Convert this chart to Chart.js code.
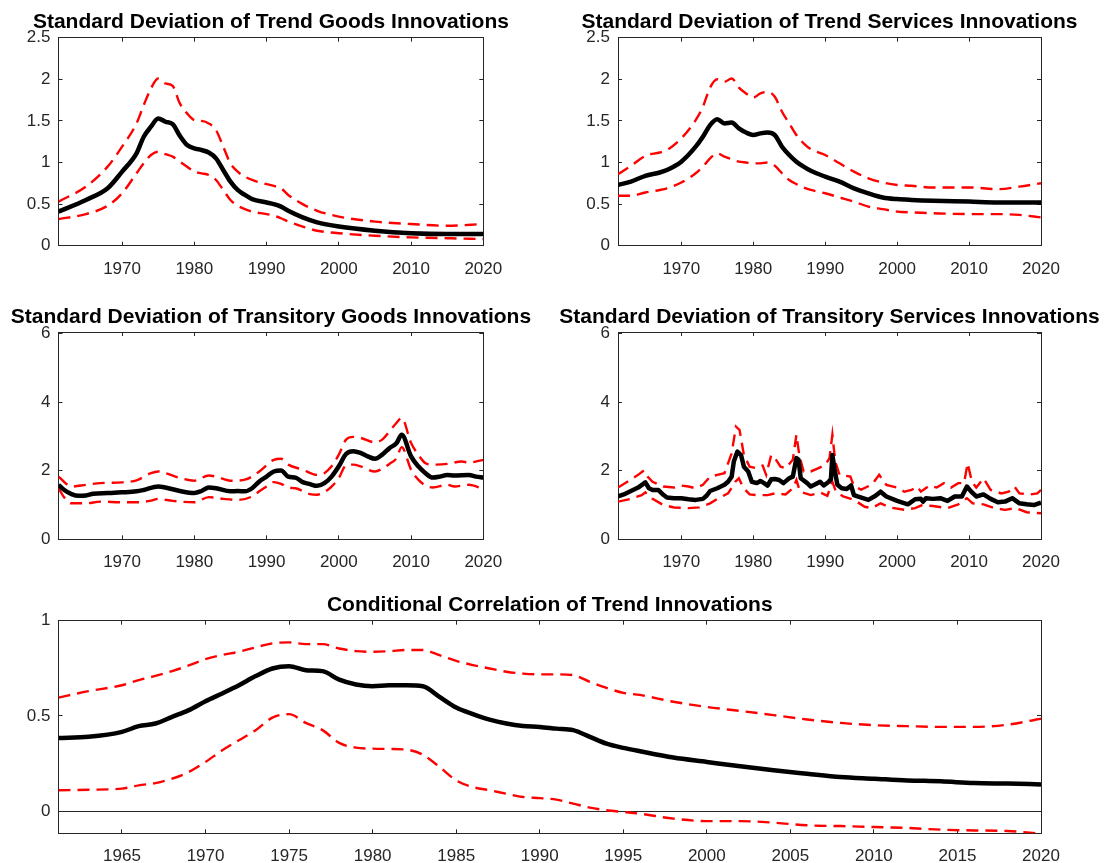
<!DOCTYPE html>
<html>
<head>
<meta charset="utf-8">
<title>Trend and transitory innovations</title>
<script src="https://cdn.jsdelivr.net/npm/chart.js@4.4.1/dist/chart.umd.min.js"></script>
<style>
  html, body { margin: 0; padding: 0; background: #fff; }
  #wrap { position: relative; width: 1104px; height: 863px; overflow: hidden; }
  #wrap canvas { position: absolute; }
</style>
</head>
<body>
<div id="wrap"></div>
<script>
'use strict';

// ---- data (years are decimal dates) ----

// trend goods
const tgYears = [1961.2, 1965, 1968, 1970, 1972, 1973, 1974, 1975, 1976, 1977, 1978, 1979, 1980, 1981, 1982, 1983,
  1984, 1985, 1986, 1987, 1988, 1990, 1991, 1992, 1993, 1995, 1997, 2000, 2005, 2010, 2015, 2020];
const tgMedian = [0.41, 0.55, 0.69, 0.89, 1.11, 1.31, 1.43, 1.53, 1.49, 1.46, 1.32, 1.21, 1.17, 1.15, 1.12, 1.05,
  0.91, 0.77, 0.67, 0.61, 0.56, 0.52, 0.50, 0.47, 0.42, 0.34, 0.28, 0.23, 0.18, 0.15, 0.14, 0.14];
const tgUpper = [0.53, 0.71, 0.95, 1.19, 1.47, 1.69, 1.89, 2.01, 1.95, 1.92, 1.71, 1.59, 1.51, 1.50, 1.47, 1.39,
  1.19, 0.99, 0.89, 0.83, 0.79, 0.74, 0.72, 0.69, 0.61, 0.50, 0.42, 0.35, 0.29, 0.26, 0.24, 0.26];
const tgLower = [0.32, 0.38, 0.48, 0.63, 0.87, 0.99, 1.09, 1.13, 1.10, 1.07, 1.01, 0.95, 0.89, 0.87, 0.85, 0.79,
  0.67, 0.55, 0.48, 0.44, 0.41, 0.38, 0.36, 0.33, 0.29, 0.23, 0.18, 0.15, 0.12, 0.10, 0.09, 0.08];

// trend services
const tsYears = [1961.2, 1963, 1965, 1967, 1968, 1970, 1972, 1973, 1974, 1975, 1976, 1977, 1978, 1979, 1980, 1981,
  1982, 1983, 1984, 1985, 1986, 1987, 1988, 1990, 1992, 1994, 1996, 1998, 2000, 2002, 2005, 2010, 2014, 2017, 2020];
const tsMedian = [0.73, 0.77, 0.84, 0.88, 0.91, 1.01, 1.19, 1.31, 1.45, 1.52, 1.47, 1.48, 1.41, 1.36, 1.33, 1.35,
  1.36, 1.33, 1.19, 1.09, 1.01, 0.95, 0.90, 0.83, 0.77, 0.69, 0.63, 0.58, 0.56, 0.55, 0.54, 0.53, 0.52, 0.52, 0.52];
const tsUpper = [0.86, 0.96, 1.08, 1.12, 1.15, 1.29, 1.51, 1.67, 1.90, 2.00, 1.97, 2.01, 1.90, 1.83, 1.78, 1.83,
  1.85, 1.79, 1.61, 1.47, 1.33, 1.23, 1.16, 1.09, 0.99, 0.89, 0.81, 0.76, 0.73, 0.72, 0.70, 0.70, 0.68, 0.71, 0.75];
const tsLower = [0.60, 0.60, 0.64, 0.67, 0.69, 0.76, 0.87, 0.95, 1.05, 1.11, 1.07, 1.04, 1.01, 1.00, 0.99, 0.99,
  1.00, 0.96, 0.87, 0.79, 0.74, 0.70, 0.67, 0.63, 0.58, 0.53, 0.47, 0.44, 0.41, 0.40, 0.39, 0.38, 0.38, 0.37, 0.34];

// transitory goods
const xgMedYears = [1961.2, 1962, 1963, 1964, 1965, 1966, 1968, 1970, 1972, 1973, 1975, 1976, 1978, 1980, 1981, 1982,
  1983, 1985, 1986, 1987, 1988, 1989, 1990, 1991, 1992, 1993, 1994, 1995, 1996, 1997, 1998, 1999, 2000, 2001, 2002,
  2003, 2004, 2005, 2006, 2007, 2008, 2008.7, 2010, 2011, 2012, 2013, 2014, 2015, 2016, 2018, 2019, 2020];
const xgMedian = [1.59, 1.44, 1.32, 1.27, 1.28, 1.33, 1.35, 1.37, 1.40, 1.44, 1.54, 1.51, 1.41, 1.35, 1.41, 1.51,
  1.49, 1.40, 1.41, 1.40, 1.49, 1.69, 1.83, 1.98, 2.01, 1.83, 1.80, 1.67, 1.61, 1.56, 1.64, 1.83, 2.13, 2.49, 2.57,
  2.52, 2.42, 2.35, 2.47, 2.66, 2.81, 3.05, 2.42, 2.13, 1.93, 1.80, 1.83, 1.88, 1.86, 1.88, 1.83, 1.80];
const xgHiYears = [1961.2, 1963, 1965, 1967, 1970, 1972, 1974, 1975, 1976, 1978, 1980, 1982, 1983, 1985, 1987, 1989,
  1991, 1992, 1993, 1995, 1997, 1998, 1999, 2000, 2001, 2002, 2003, 2005, 2006, 2007, 2008, 2008.7, 2010, 2011, 2012,
  2013, 2015, 2017, 2018, 2020];
const xgUpper = [1.83, 1.54, 1.59, 1.64, 1.66, 1.72, 1.93, 1.98, 1.93, 1.79, 1.71, 1.86, 1.83, 1.71, 1.74, 1.98,
  2.32, 2.35, 2.18, 2.03, 1.88, 1.93, 2.13, 2.47, 2.91, 2.99, 2.96, 2.83, 2.91, 3.15, 3.40, 3.54, 2.81, 2.47, 2.22,
  2.18, 2.20, 2.27, 2.24, 2.32];
const xgLoYears = [1961.2, 1962, 1963, 1965, 1967, 1970, 1972, 1974, 1975, 1977, 1980, 1982, 1984, 1986, 1988, 1989,
  1990, 1991, 1992, 1993, 1994, 1996, 1997, 1998, 1999, 2000, 2001, 2002, 2003, 2005, 2006, 2007, 2008, 2008.7, 2010,
  2011, 2012, 2013, 2015, 2016, 2018, 2020];
const xgLower = [1.49, 1.22, 1.05, 1.05, 1.10, 1.08, 1.08, 1.13, 1.18, 1.12, 1.08, 1.23, 1.18, 1.15, 1.25, 1.40,
  1.54, 1.67, 1.62, 1.51, 1.49, 1.32, 1.30, 1.38, 1.54, 1.79, 2.16, 2.18, 2.13, 1.98, 2.06, 2.20, 2.37, 2.69, 2.03,
  1.74, 1.57, 1.51, 1.59, 1.54, 1.59, 1.47];

// transitory services
const xsMedYears = [1961.2, 1962, 1963, 1964, 1965, 1965.5, 1966, 1966.8, 1967.5, 1968, 1969, 1970, 1971, 1972, 1973,
  1973.5, 1974, 1975, 1976, 1976.5, 1977, 1977.3, 1977.8, 1978.3, 1978.7, 1979.3, 1979.8, 1980.5, 1981, 1981.5, 1982,
  1982.5, 1983, 1983.6, 1984.2, 1985, 1985.5, 1986, 1986.3, 1986.6, 1987.5, 1988, 1988.5, 1989.3, 1989.8, 1990.5,
  1990.8, 1991, 1991.3, 1991.7, 1992.3, 1993, 1993.6, 1994, 1994.5, 1996, 1997, 1997.7, 1998.5, 2000, 2001.5, 2002.5,
  2003.3, 2003.6, 2004, 2005, 2006, 2007, 2008, 2009, 2009.7, 2010.3, 2011, 2012, 2013, 2014, 2015, 2016, 2017, 2018,
  2019, 2020];
const xsMedian = [1.25, 1.31, 1.41, 1.51, 1.66, 1.49, 1.44, 1.44, 1.30, 1.22, 1.20, 1.20, 1.17, 1.15, 1.18,
  1.27, 1.41, 1.49, 1.59, 1.68, 1.83, 2.27, 2.56, 2.46, 2.12, 1.98, 1.68, 1.64, 1.70, 1.64, 1.57,
  1.75, 1.76, 1.73, 1.64, 1.78, 1.83, 2.37, 2.32, 1.78, 1.64, 1.54, 1.59, 1.68, 1.57, 1.68,
  1.76, 2.46, 2.05, 1.59, 1.49, 1.47, 1.57, 1.29, 1.25, 1.15, 1.27, 1.39, 1.25, 1.12, 1.02, 1.17,
  1.18, 1.10, 1.20, 1.18, 1.20, 1.12, 1.25, 1.25, 1.54, 1.39, 1.25, 1.31, 1.18, 1.08, 1.10, 1.20, 1.05, 1.02,
  1.00, 1.07];
const xsHiYears = [1961.2, 1962.5, 1964, 1964.8, 1965.3, 1966, 1967.5, 1969, 1970, 1971, 1972, 1973, 1974, 1975, 1976,
  1977, 1977.6, 1978.1, 1978.7, 1979.5, 1980.5, 1981.3, 1981.8, 1982.5, 1983, 1983.8, 1984.5, 1985.5, 1986, 1986.4,
  1987, 1988, 1989, 1990, 1990.6, 1991, 1991.4, 1992, 1993.5, 1994, 1995, 1996.5, 1997.5, 1998.5, 2000, 2001, 2002,
  2002.8, 2003.3, 2004.5, 2005.5, 2006.5, 2007.5, 2008.5, 2009.3, 2009.8, 2010.4, 2011, 2012, 2013, 2014.5, 2015.5,
  2016.3, 2017, 2018.5, 2019.5, 2020];
const xsUpper = [1.51, 1.68, 1.88, 2.01, 1.83, 1.68, 1.54, 1.51, 1.57, 1.54, 1.49, 1.59, 1.83, 1.88, 1.93,
  2.51, 3.29, 3.19, 2.46, 2.12, 2.07, 2.15, 1.88, 2.46, 2.37, 2.12, 2.07, 2.32, 3.05, 2.46,
  1.98, 1.98, 2.07, 2.17, 2.37, 3.05, 2.27, 1.88, 1.83, 1.55, 1.45, 1.60, 1.88, 1.59, 1.51, 1.39, 1.44,
  1.54, 1.39, 1.57, 1.51, 1.64, 1.51, 1.64, 1.64, 2.22, 1.68, 1.51, 1.78, 1.44, 1.34, 1.39,
  1.54, 1.34, 1.31, 1.34, 1.44];
const xsLoYears = [1961.2, 1963, 1964.5, 1965, 1966, 1967.5, 1969, 1971, 1972.5, 1974, 1975, 1976.5, 1977.5, 1978,
  1978.6, 1979.5, 1980.5, 1982, 1983, 1984.5, 1985.5, 1986, 1986.5, 1988, 1989.3, 1990.3, 1991, 1991.5, 1992.5, 1994,
  1995.5, 1996.5, 1997.7, 1999, 2001, 2002.5, 2003.5, 2005, 2007, 2008.5, 2009.7, 2010.5, 2012, 2013.5, 2015, 2016.5,
  2018, 2020];
const xsLower = [1.10, 1.18, 1.29, 1.37, 1.18, 1.00, 0.93, 0.91, 0.93, 1.05, 1.18, 1.34, 1.68, 1.78,
  1.51, 1.31, 1.29, 1.29, 1.34, 1.31, 1.49, 1.73, 1.39, 1.29, 1.37, 1.27, 1.68, 1.39, 1.25, 1.15,
  0.95, 0.91, 1.05, 0.93, 0.86, 0.91, 1.00, 0.97, 0.91, 1.02, 1.20, 1.05, 1.02, 0.91, 0.86, 0.91,
  0.79, 0.76];

// conditional correlation of trend innovations
const corrYears = [1961.2, 1963, 1965, 1966, 1967, 1968, 1969, 1970, 1971, 1972, 1973, 1974, 1975, 1976, 1977, 1978,
  1979, 1980, 1981, 1982, 1983, 1984, 1985, 1986, 1987, 1988, 1989, 1990, 1991, 1992, 1993, 1994, 1995, 1996, 1998,
  2000, 2002, 2004, 2006, 2008, 2010, 2012, 2014, 2016, 2018, 2020];
const corrMedian = [0.384, 0.39, 0.416, 0.446, 0.46, 0.495, 0.53, 0.577, 0.618, 0.661, 0.709, 0.749, 0.761, 0.74,
  0.735, 0.69, 0.665, 0.656, 0.661, 0.661, 0.656, 0.60, 0.544, 0.509, 0.48, 0.46, 0.447, 0.442, 0.433, 0.425, 0.39,
  0.354, 0.332, 0.314, 0.281, 0.258, 0.235, 0.214, 0.196, 0.179, 0.17, 0.161, 0.156, 0.147, 0.144, 0.14];
const corrUpper = [0.596, 0.63, 0.661, 0.688, 0.71, 0.735, 0.765, 0.798, 0.82, 0.837, 0.86, 0.881, 0.886, 0.877,
  0.877, 0.854, 0.84, 0.837, 0.84, 0.846, 0.846, 0.819, 0.789, 0.767, 0.749, 0.732, 0.722, 0.718, 0.718, 0.714, 0.679,
  0.647, 0.621, 0.61, 0.574, 0.547, 0.526, 0.504, 0.481, 0.463, 0.451, 0.446, 0.442, 0.442, 0.454, 0.485];
const corrLower = [0.109, 0.112, 0.118, 0.135, 0.147, 0.17, 0.205, 0.258, 0.319, 0.372, 0.425, 0.491, 0.509, 0.463,
  0.425, 0.358, 0.333, 0.328, 0.326, 0.323, 0.296, 0.232, 0.161, 0.126, 0.109, 0.091, 0.074, 0.068, 0.06, 0.039, 0.018,
  0.004, -0.005, -0.014, -0.04, -0.053, -0.053, -0.061, -0.075, -0.079, -0.084, -0.089, -0.098, -0.102, -0.105, -0.119];

// axis ticks
const decadeTicks = [1970, 1980, 1990, 2000, 2010, 2020];
const fiveYearTicks = [1965, 1970, 1975, 1980, 1985, 1990, 1995, 2000, 2005, 2010, 2015, 2020];
const trendTicks = [0, 0.5, 1, 1.5, 2, 2.5];
const transitoryTicks = [0, 2, 4, 6];
const corrTicks = [0, 0.5, 1];

(function () {
  let fontFamily = '"Liberation Sans", Arial, Helvetica, sans-serif';
  let axisColor = '#262626';
  let xStart = 1961.2, xEnd = 2020;
  let wrap = document.getElementById('wrap');

  Chart.defaults.font.family = fontFamily;
  Chart.defaults.color = axisColor;

  // matlab-like title centred on the plot box
  let panelTitle = {
    id: 'panelTitle',
    afterDraw(chart, args, opts) {
      let ctx = chart.ctx, area = chart.chartArea;
      ctx.save();
      ctx.font = 'bold 21px ' + fontFamily;
      ctx.fillStyle = '#000';
      ctx.textAlign = 'center';
      ctx.textBaseline = 'alphabetic';
      ctx.fillText(opts.text, (area.left + area.right) / 2, area.top - 9.5);
      ctx.restore();
    }
  };

  let toPoints = (years, values) => years.map((x, i) => ({ x: x, y: values[i] }));

  let solid = (years, values, smooth) => ({
    data: toPoints(years, values),
    borderColor: '#000',
    borderWidth: 4.5,
    pointRadius: 0,
    tension: 0,
    cubicInterpolationMode: smooth ? 'monotone' : 'default',
    borderJoinStyle: 'round'
  });

  let dashed = (years, values, smooth) => ({
    data: toPoints(years, values),
    borderColor: '#ff0000',
    borderWidth: 2.4,
    borderDash: [12, 7],
    pointRadius: 0,
    tension: 0,
    cubicInterpolationMode: smooth ? 'monotone' : 'default'
  });

  // one axis of the box; ticks point inward like matlab
  let makeAxis = (position, min, max, ticks, showLabels, size) => {
    let horizontal = position === 'top' || position === 'bottom';
    return {
      type: 'linear',
      position: position,
      min: min,
      max: max,
      afterBuildTicks: (scale) => { scale.ticks = ticks.map(v => ({ value: v })); },
      afterFit: (scale) => {
        if (horizontal) scale.height = size; else scale.width = size;
      },
      border: { display: true, color: axisColor, width: 1 },
      grid: { drawOnChartArea: false, drawTicks: true, tickLength: -4, tickColor: axisColor, lineWidth: 1 },
      ticks: {
        display: showLabels,
        autoSkip: false,
        maxRotation: 0,
        padding: horizontal ? 17 : 12,
        color: axisColor,
        font: { size: 17 },
        callback: (v) => String(v)
      }
    };
  };

  let makePanel = (p) => {
    let canvas = document.createElement('canvas');
    canvas.width = p.box[2];
    canvas.height = p.box[3];
    canvas.style.left = p.box[0] + 'px';
    canvas.style.top = p.box[1] + 'px';
    wrap.appendChild(canvas);

    let [bx, by, bw, bh] = p.box;
    let [pl, pt, pr, pb] = p.plot;

    let yAxis = makeAxis('left', p.yMin, p.yMax, p.yTicks, true, pl - bx);
    if (p.zeroLine) {
      yAxis.grid = Object.assign({}, yAxis.grid, {
        drawOnChartArea: true,
        color: (c) => (c.tick && c.tick.value === 0 ? axisColor : 'rgba(0,0,0,0)')
      });
    }

    return new Chart(canvas, {
      type: 'line',
      data: { datasets: p.datasets },
      plugins: [panelTitle],
      options: {
        responsive: false,
        animation: false,
        events: [],
        layout: { padding: { left: 0, top: pt - by, right: bx + bw - pr, bottom: 0 } },
        plugins: {
          legend: { display: false },
          tooltip: { enabled: false },
          panelTitle: { text: p.title }
        },
        scales: {
          x: makeAxis('bottom', xStart, xEnd, p.xTicks, true, by + bh - pb),
          x2: makeAxis('top', xStart, xEnd, p.xTicks, false, 0),
          y: yAxis,
          y2: makeAxis('right', p.yMin, p.yMax, p.yTicks, false, 0)
        }
      }
    });
  };

  let panels = [
    {
      title: 'Standard Deviation of Trend Goods Innovations',
      box: [0, 0, 552, 290], plot: [58.5, 37.7, 483.3, 245.7],
      xTicks: decadeTicks, yTicks: trendTicks, yMin: 0, yMax: 2.5,
      datasets: [solid(tgYears, tgMedian, true), dashed(tgYears, tgUpper, true), dashed(tgYears, tgLower, true)]
    },
    {
      title: 'Standard Deviation of Trend Services Innovations',
      box: [552, 0, 552, 290], plot: [618, 37.7, 1041, 245.7],
      xTicks: decadeTicks, yTicks: trendTicks, yMin: 0, yMax: 2.5,
      datasets: [solid(tsYears, tsMedian, true), dashed(tsYears, tsUpper, true), dashed(tsYears, tsLower, true)]
    },
    {
      title: 'Standard Deviation of Transitory Goods Innovations',
      box: [0, 290, 552, 290], plot: [58.5, 332, 483.3, 539.3],
      xTicks: decadeTicks, yTicks: transitoryTicks, yMin: 0, yMax: 6.05,
      datasets: [solid(xgMedYears, xgMedian, true), dashed(xgHiYears, xgUpper, true), dashed(xgLoYears, xgLower, true)]
    },
    {
      title: 'Standard Deviation of Transitory Services Innovations',
      box: [552, 290, 552, 290], plot: [618, 332, 1041, 539.3],
      xTicks: decadeTicks, yTicks: transitoryTicks, yMin: 0, yMax: 6.05,
      datasets: [solid(xsMedYears, xsMedian, false), dashed(xsHiYears, xsUpper, false), dashed(xsLoYears, xsLower, false)]
    },
    {
      title: 'Conditional Correlation of Trend Innovations',
      box: [0, 580, 1104, 283], plot: [58.5, 620.7, 1041, 833.3],
      xTicks: fiveYearTicks, yTicks: corrTicks, yMin: -0.117, yMax: 1, zeroLine: true,
      datasets: [solid(corrYears, corrMedian, true), dashed(corrYears, corrUpper, true), dashed(corrYears, corrLower, true)]
    }
  ];

  panels.forEach(makePanel);
})();
</script>
</body>
</html>
